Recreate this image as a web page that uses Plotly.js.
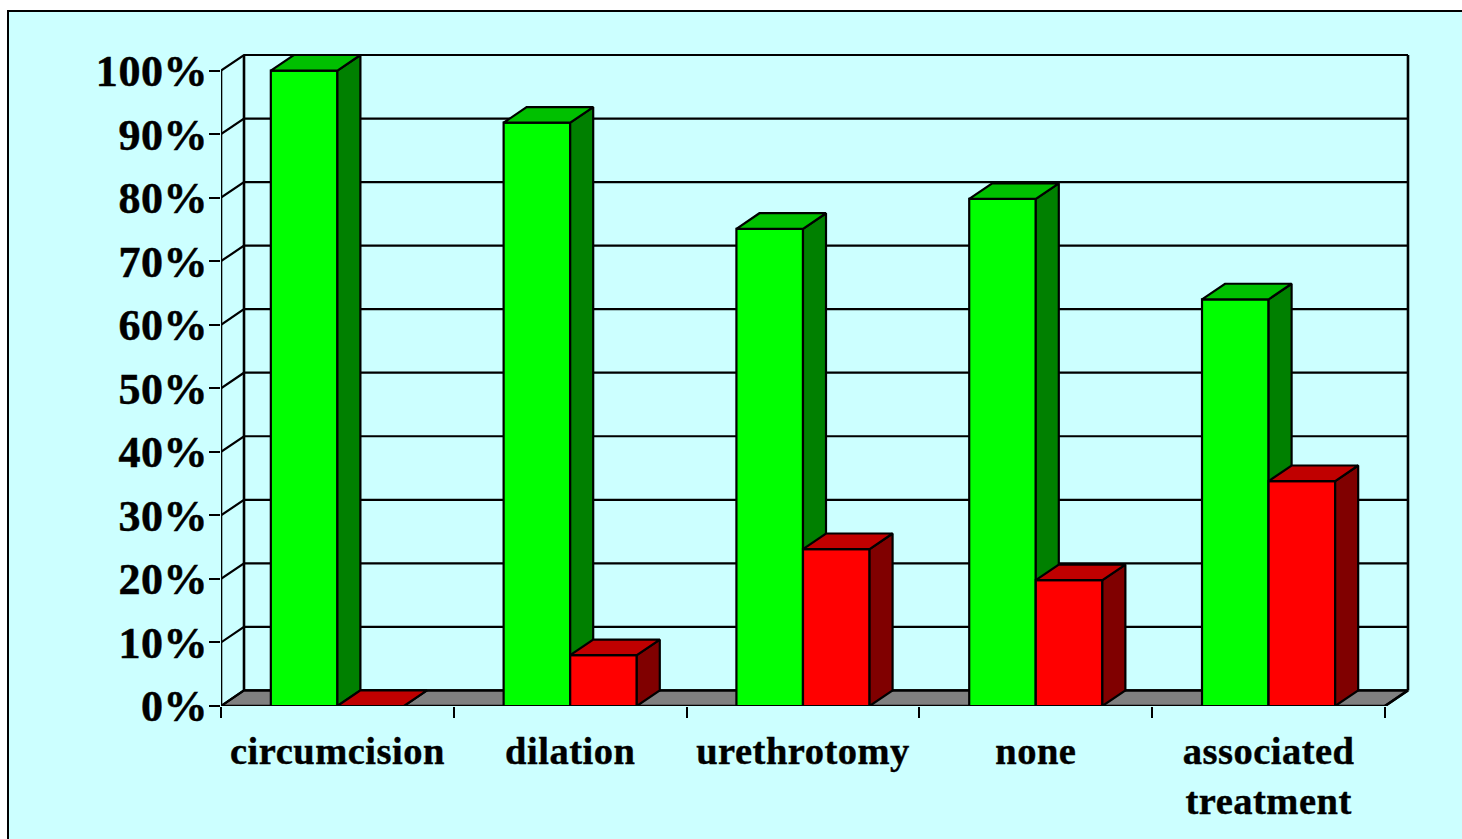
<!DOCTYPE html>
<html>
<head>
<meta charset="utf-8">
<script src="https://cdn.plot.ly/plotly-3.0.1.min.js"></script>
<style>
html,body{margin:0;padding:0;background:#fff;width:1462px;height:839px;overflow:hidden}
#frame{position:absolute;left:7px;top:10px;width:1480px;height:860px;background:#CCFFFF;border:2px solid #000}
#chart{position:absolute;left:0;top:0;width:1462px;height:839px}
.xtick text{letter-spacing:0.5px;stroke:#000;stroke-width:0.4px}
.ytick text{letter-spacing:0.6px;stroke:#000;stroke-width:0.5px}
</style>
</head>
<body>
<div id="frame"></div>
<div id="chart"></div>
<script>
// Data
const categories = ['circumcision','dilation','urethrotomy','none','associated<br>treatment'];
const greenValues = [100, 91.8, 75.1, 79.8, 64];
const redValues = [0, 8, 24.7, 19.8, 35.4];
const yTicks = [0,10,20,30,40,50,60,70,80,90,100];
const yLabels = ['0%','10%','20%','30%','40%','50%','60%','70%','80%','90%','100%'];

// Faux-3D depth, in axis units
const DX = 0.0988, DY = 2.45, BW = 0.286;
const X0 = -0.5, X1 = 4.5, YMAX = 100;
const idx = categories.map((_, i) => i);

function polys(list){
  const x=[], y=[];
  list.forEach(p=>{ p.forEach(q=>{x.push(q[0]);y.push(q[1]);}); x.push(p[0][0]); y.push(p[0][1]); x.push(null); y.push(null); });
  return {x,y};
}
function lines(list){
  const x=[], y=[];
  list.forEach(p=>{ p.forEach(q=>{x.push(q[0]);y.push(q[1]);}); x.push(null); y.push(null); });
  return {x,y};
}
function face(list, color, yaxis){
  const p = polys(list);
  return {type:'scatter',mode:'lines',x:p.x,y:p.y,yaxis,fill:'toself',fillcolor:color,
          line:{color:'#000',width:2.2},cliponaxis:false,hoverinfo:'skip',showlegend:false};
}
function sideFaces(vals, off){
  return vals.map((v,i)=>{ const a=i+off+BW;
    return [[a,0],[a+DX,DY],[a+DX,v+DY],[a,v]]; });
}
function topFaces(vals, off){
  return vals.map((v,i)=>{ const a=i+off;
    return [[a,v],[a+DX,v+DY],[a+BW+DX,v+DY],[a+BW,v]]; });
}

const gridL = lines(yTicks.map(v=>[[X0,v],[X0+DX,v+DY],[X1+DX,v+DY]]));
const frameL = lines([
  [[X0,0],[X0,YMAX]],
  [[X0+DX,DY],[X0+DX,YMAX+DY]],
  [[X1+DX,DY],[X1+DX,YMAX+DY]],
  [[X0,0],[X1,0]],
  [[X1,0],[X1+DX,DY]]
]);
const traces = [
  face([[[X0,0],[X1,0],[X1+DX,DY],[X0+DX,DY]]],'#808080','y'),
  {type:'scatter',mode:'lines',x:gridL.x,y:gridL.y,line:{color:'#000',width:2.2},cliponaxis:false,hoverinfo:'skip',showlegend:false},
  {type:'scatter',mode:'lines',x:frameL.x,y:frameL.y,line:{color:'#000',width:2.6},cliponaxis:false,hoverinfo:'skip',showlegend:false},
  {type:'bar',x:idx,y:greenValues,yaxis:'y2',width:BW,offset:-BW,marker:{color:'#00FF00',line:{color:'#000',width:2.2}},showlegend:false,cliponaxis:false},
  face(sideFaces(greenValues,-BW),'#008000','y2'),
  face(topFaces(greenValues,-BW),'#00C000','y2'),
  {type:'bar',x:idx,y:redValues,yaxis:'y3',width:BW,offset:0,marker:{color:'#FF0000',line:{color:'#000',width:2.2}},showlegend:false,cliponaxis:false},
  face(sideFaces(redValues,0),'#800000','y3'),
  face(topFaces(redValues,0),'#C00000','y3')
];

const yr = [0, YMAX+DY+0.787];
const layout = {
  width:1462,height:839,
  margin:{l:221,r:49,t:50,b:133,pad:0},
  paper_bgcolor:'rgba(0,0,0,0)',plot_bgcolor:'rgba(0,0,0,0)',
  showlegend:false,barmode:'overlay',
  font:{family:'"Liberation Serif", serif',color:'#000'},
  xaxis:{type:'linear',range:[X0,X1+DX+0.0215],tickmode:'array',tickvals:idx,ticktext:categories,ticks:'',
    showgrid:false,zeroline:false,showline:false,ticklabelstandoff:18,
    tickfont:{family:'"Liberation Serif", serif',size:38.5,weight:700,color:'#000'},
    minor:{ticks:'outside',ticklen:11,tickwidth:2,tickcolor:'#000',tick0:X0,dtick:1,showgrid:false}},
  yaxis:{range:yr,tickmode:'array',tickvals:yTicks,ticktext:yLabels,ticks:'outside',ticklen:11,tickwidth:2,tickcolor:'#000',
    showgrid:false,zeroline:false,showline:false,ticklabelstandoff:-8,
    tickfont:{family:'"Liberation Serif", serif',size:44,weight:700,color:'#000'}},
  yaxis2:{range:yr,overlaying:'y',visible:false},
  yaxis3:{range:yr,overlaying:'y',visible:false}
};
Plotly.newPlot('chart',traces,layout,{displayModeBar:false,staticPlot:true});
</script>
</body>
</html>
